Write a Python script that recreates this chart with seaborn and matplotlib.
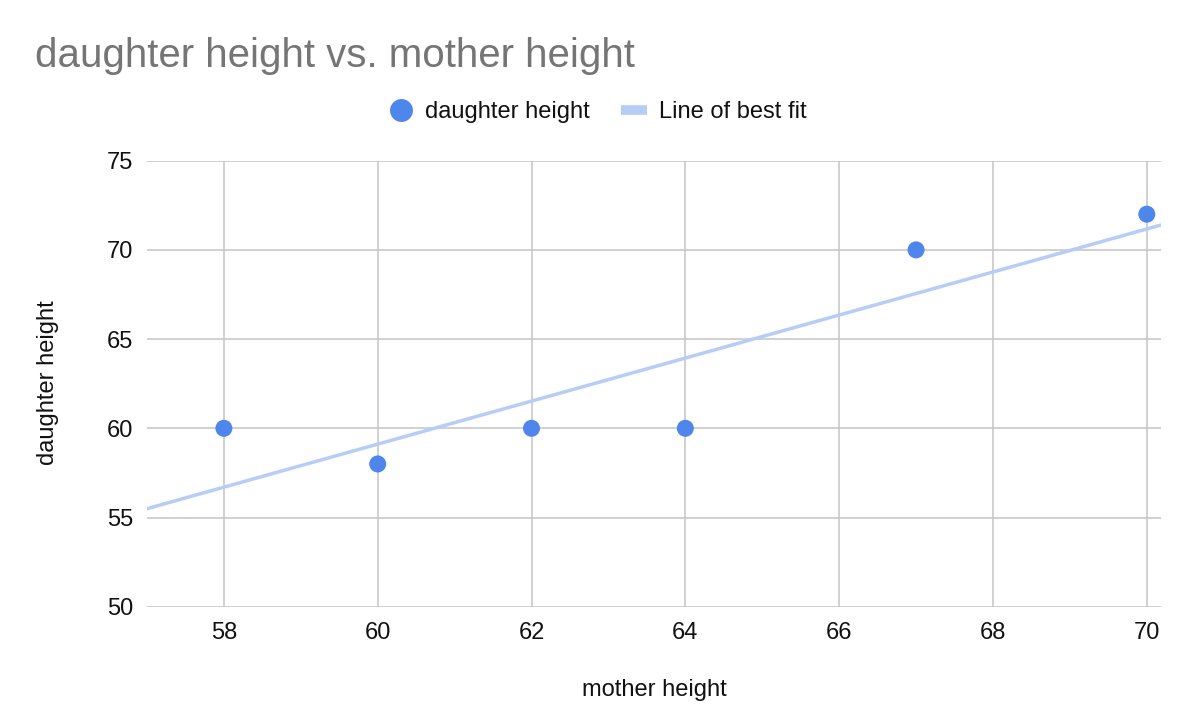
import numpy as np
import pandas as pd
import matplotlib
matplotlib.use('Agg')
import matplotlib.pyplot as plt
from matplotlib.lines import Line2D
import seaborn as sns

# Data
mother_height = [58, 60, 62, 64, 67, 70]
daughter_height = [60, 58, 60, 60, 70, 72]
x_ticks = [58, 60, 62, 64, 66, 68, 70]
y_ticks = [50, 55, 60, 65, 70, 75]

df = pd.DataFrame({'mother height': mother_height, 'daughter height': daughter_height})

sns.set_style('white')
plt.rcParams['font.family'] = ['Liberation Sans', 'DejaVu Sans']

point_color = '#4e86ec'
fit_color = '#b6cdf7'
grid_color = '#c8c8c8'
text_color = '#111111'

fig = plt.figure(figsize=(11.92, 7.28), dpi=100)
ax = fig.add_axes([0.1233, 0.1666, 0.8504, 0.6127])

ax.set_xlim(57, 70.18)
ax.set_ylim(50, 75)

# Line of best fit, stretched over the whole x range
sns.regplot(data=df, x='mother height', y='daughter height', ax=ax, ci=None,
            truncate=False, scatter=False,
            line_kws={'color': fit_color, 'linewidth': 2.5, 'zorder': 2})

sns.scatterplot(data=df, x='mother height', y='daughter height', ax=ax,
                color=point_color, s=150, edgecolor='none', zorder=3)

ax.set_xlim(57, 70.18)
ax.set_ylim(50, 75)
ax.set_xticks(x_ticks)
ax.set_yticks(y_ticks)
ax.grid(True, color=grid_color, linewidth=1.2)
ax.set_axisbelow(True)
for s in ax.spines.values():
    s.set_visible(False)
ax.tick_params(axis='both', length=0, labelsize=17, colors=text_color)
ax.tick_params(axis='y', pad=10)
ax.tick_params(axis='x', pad=11)

ax.set_xlabel('')
ax.set_ylabel('')
fig.text(654 / 1192, 1 - 690 / 728, 'mother height', ha='center', va='center',
         fontsize=17, color=text_color)
fig.text(48 / 1192, 1 - 383 / 728, 'daughter height', ha='center', va='center',
         rotation=90, fontsize=17, color=text_color)

fig.text(35 / 1192, 1 - 67 / 728, 'daughter height vs. mother height',
         ha='left', va='baseline', fontsize=29, color='#757575')

handles = [
    Line2D([], [], marker='o', linestyle='none', markersize=16.5,
           markerfacecolor=point_color, markeredgecolor='none'),
    Line2D([], [], color=fit_color, linewidth=7, solid_capstyle='butt'),
]
fig.legend(handles, ['daughter height', 'Line of best fit'], ncol=2,
           loc='center', bbox_to_anchor=(597 / 1192, 1 - 112 / 728),
           frameon=False, fontsize=17, handlelength=1.1, handletextpad=0.5,
           columnspacing=1.3, labelcolor=text_color)

fig.savefig('out.png', dpi=100)
